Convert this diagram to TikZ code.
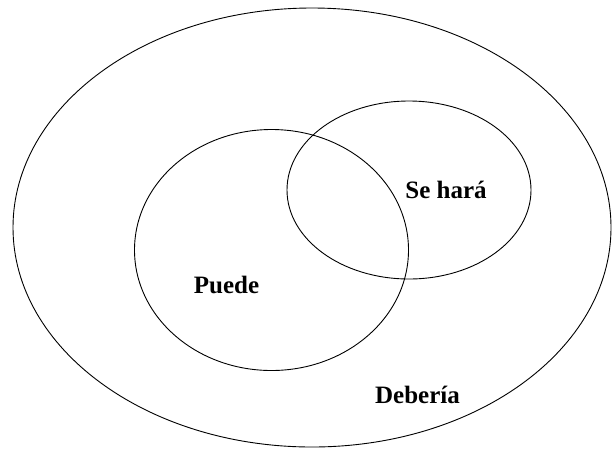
\documentclass[tikz,border=0pt]{standalone}
\usepackage{fontspec}
\setmainfont{Liberation Serif}
\begin{document}
\begin{tikzpicture}[x=1pt,y=-1pt,
  setline/.style={draw=black,line width=0.9pt},
  setlabel/.style={font=\fontsize{25}{29}\selectfont\bfseries,anchor=base,inner sep=0pt}]
\useasboundingbox (0,0) rectangle (612,448);
\fill[white] (0,0) rectangle (612,448);
% outer set
\draw[setline] (312,227.5) ellipse [x radius=299, y radius=219.5];
% Puede
\draw[setline] (271.5,250) ellipse [x radius=137, y radius=120.5];
% Se hará
\draw[setline] (409,190) ellipse [x radius=122, y radius=89];
\node[setlabel] (sehara) at (446,198) {Se hará};
\node[setlabel] (puede) at (226.5,293) {Puede};
\node[setlabel] (deberia) at (417.5,403.3) {Debería};
\end{tikzpicture}
\end{document}
